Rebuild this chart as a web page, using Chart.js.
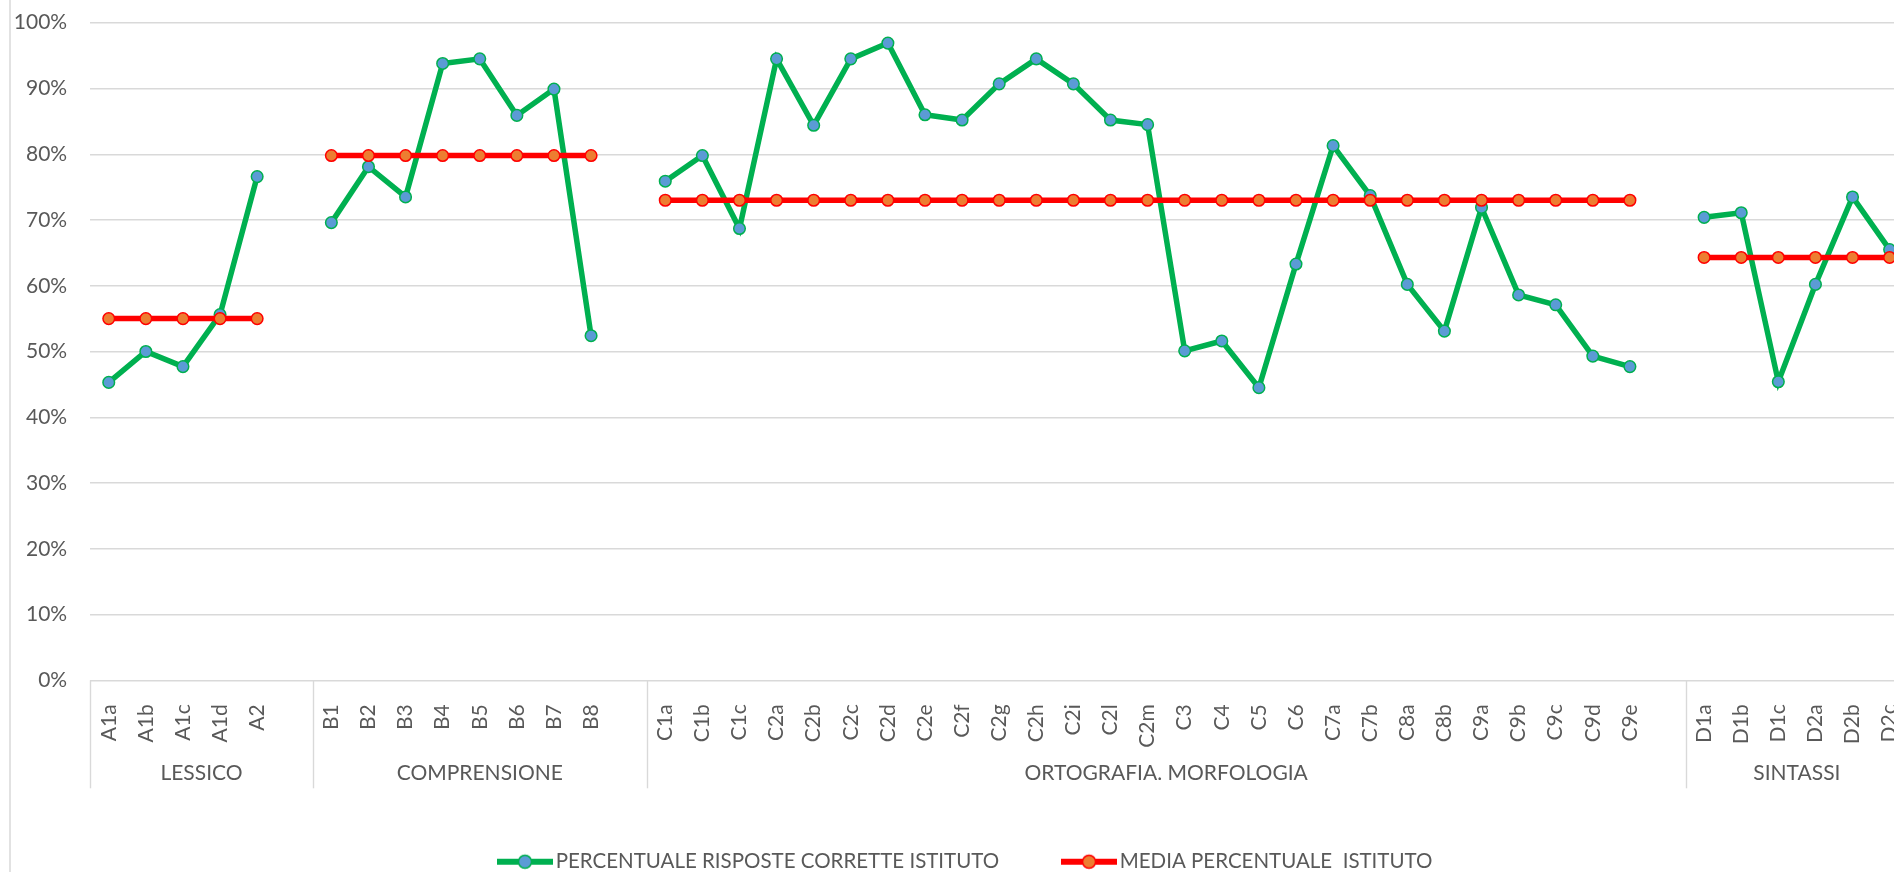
<!DOCTYPE html>
<html>
<head>
<meta charset="utf-8">
<script src="https://cdn.jsdelivr.net/npm/chart.js@4/dist/chart.umd.min.js"></script>
<style>
html,body{margin:0;padding:0;background:#fff;overflow:hidden;width:1894px;height:872px}
canvas{display:block}
</style>
</head>
<body>
<canvas id="c" width="1931" height="882"></canvas>
<script>
// ---- data ----
const categories = [
  'A1a','A1b','A1c','A1d','A2','',
  'B1','B2','B3','B4','B5','B6','B7','B8','',
  'C1a','C1b','C1c','C2a','C2b','C2c','C2d','C2e','C2f','C2g','C2h','C2i','C2l','C2m',
  'C3','C4','C5','C6','C7a','C7b','C8a','C8b','C9a','C9b','C9c','C9d','C9e','',
  'D1a','D1b','D1c','D2a','D2b','D2c'
];
const groupNames = ['LESSICO','COMPRENSIONE','ORTOGRAFIA. MORFOLOGIA','SINTASSI'];
const groupSlots = [6, 9, 28, 6];
const seriesNames = ['PERCENTUALE RISPOSTE CORRETTE ISTITUTO', 'MEDIA PERCENTUALE  ISTITUTO'];
const percentualeRisposte = [
  45.3, 50.0, 47.7, 55.6, 76.6, null,
  69.6, 78.1, 73.5, 93.8, 94.5, 85.9, 89.9, 52.4, null,
  75.9, 79.8, 68.7, 94.5, 84.4, 94.5, 96.9, 86.0, 85.2, 90.7, 94.5, 90.7, 85.2, 84.5,
  50.1, 51.6, 44.5, 63.3, 81.3, 73.7, 60.2, 53.1, 71.9, 58.6, 57.1, 49.3, 47.7, null,
  70.4, 71.1, 45.4, 60.2, 73.5, 65.5
];
const mediaIstituto = [
  55.0, 55.0, 55.0, 55.0, 55.0, null,
  79.8, 79.8, 79.8, 79.8, 79.8, 79.8, 79.8, 79.8, null,
  73.0, 73.0, 73.0, 73.0, 73.0, 73.0, 73.0, 73.0, 73.0, 73.0, 73.0, 73.0, 73.0, 73.0,
  73.0, 73.0, 73.0, 73.0, 73.0, 73.0, 73.0, 73.0, 73.0, 73.0, 73.0, 73.0, 73.0, null,
  64.3, 64.3, 64.3, 64.3, 64.3, 64.3
];
const yMin = 0, yMax = 100, yStep = 10;

// ---- styles ----
const FONT = 'Lato';
const TEXT = '#595959';
const GRID = '#D9D9D9';
const GREEN = '#00B050', BLUE = '#5B9BD5', RED = '#FF0000', ORANGE = '#ED7D31';

function legendIcon(lineColor, fill, border) {
  const c = document.createElement('canvas');
  c.width = 56; c.height = 18;
  const g = c.getContext('2d');
  g.strokeStyle = lineColor; g.lineWidth = 6;
  g.beginPath(); g.moveTo(0, 9); g.lineTo(56, 9); g.stroke();
  g.beginPath(); g.arc(28, 9, 6.5, 0, Math.PI * 2);
  g.fillStyle = fill; g.fill();
  g.lineWidth = 1.5; g.strokeStyle = border; g.stroke();
  return c;
}
const legendIcons = [legendIcon(GREEN, BLUE, GREEN), legendIcon(RED, ORANGE, RED)];

const decor = {
  id: 'decor',
  afterLayout(chart) {
    // the legend is centred on the whole chart box of the original, which starts 23px further right
    if (chart.legend) chart.legend.left += 23;
  },
  beforeDraw(chart) {
    const ctx = chart.ctx;
    ctx.save();
    ctx.strokeStyle = GRID; ctx.lineWidth = 1.5;
    ctx.beginPath(); ctx.moveTo(10, 0); ctx.lineTo(10, chart.height); ctx.stroke();
    ctx.restore();
  },
  afterDraw(chart) {
    const ctx = chart.ctx, xs = chart.scales.x, ca = chart.chartArea;
    const bounds = [0];
    groupSlots.forEach(n => bounds.push(bounds[bounds.length - 1] + n));
    ctx.save();
    ctx.strokeStyle = GRID; ctx.lineWidth = 1.4;
    bounds.forEach(b => {
      const x = Math.round(xs.getPixelForValue(b - 0.5)) + 0.5;
      ctx.beginPath(); ctx.moveTo(x, ca.bottom); ctx.lineTo(x, ca.bottom + 108); ctx.stroke();
    });
    ctx.fillStyle = TEXT;
    ctx.font = '21px ' + FONT;
    ctx.textAlign = 'center'; ctx.textBaseline = 'middle';
    groupNames.forEach((name, i) => {
      const x = (xs.getPixelForValue(bounds[i] - 0.5) + xs.getPixelForValue(bounds[i + 1] - 0.5)) / 2;
      ctx.fillText(name, x, ca.bottom + 93);
    });
    ctx.restore();
  }
};

new Chart(document.getElementById('c'), {
  type: 'line',
  data: {
    labels: categories,
    datasets: [
      {
        label: seriesNames[0], data: percentualeRisposte, order: 1,
        borderColor: GREEN, borderWidth: 5.5, backgroundColor: BLUE,
        pointBackgroundColor: BLUE, pointBorderColor: GREEN, pointBorderWidth: 1.5,
        pointRadius: 5.8, tension: 0, spanGaps: false
      },
      {
        label: seriesNames[1], data: mediaIstituto, order: 0,
        borderColor: RED, borderWidth: 5.5, backgroundColor: ORANGE,
        pointBackgroundColor: ORANGE, pointBorderColor: RED, pointBorderWidth: 1.5,
        pointRadius: 5.8, tension: 0, spanGaps: false
      }
    ]
  },
  options: {
    responsive: false, animation: false, devicePixelRatio: 1,
    events: [],
    layout: { padding: { left: 0, right: 17, top: 22.7, bottom: 0 } },
    scales: {
      x: {
        type: 'category', offset: true,
        grid: { display: false }, border: { display: false },
        ticks: {
          autoSkip: false, maxRotation: 90, minRotation: 90, padding: 16,
          color: TEXT, font: { family: FONT, size: 21 }
        },
        afterFit(s) { s.height = 101.7; }
      },
      y: {
        min: yMin, max: yMax,
        grid: { color: GRID, lineWidth: 1.4, drawTicks: true, tickLength: 23, tickColor: 'rgba(0,0,0,0)' },
        border: { display: false },
        ticks: {
          stepSize: yStep, padding: 0, color: TEXT, font: { family: FONT, size: 21 },
          callback: v => v + '%'
        },
        afterFit(s) { s.width = 90.2; }
      }
    },
    plugins: {
      tooltip: { enabled: false },
      legend: {
        position: 'bottom', align: 'center',
        labels: {
          usePointStyle: true, pointStyleWidth: 40.8, padding: 69.5,
          color: TEXT, font: { family: FONT, size: 20.5 },
          generateLabels(chart) {
            const items = Chart.defaults.plugins.legend.labels.generateLabels(chart);
            items.sort((a, b) => a.datasetIndex - b.datasetIndex);
            items.forEach(it => { it.pointStyle = legendIcons[it.datasetIndex]; });
            return items;
          }
        }
      }
    }
  },
  plugins: [decor]
});
</script>
</body>
</html>
